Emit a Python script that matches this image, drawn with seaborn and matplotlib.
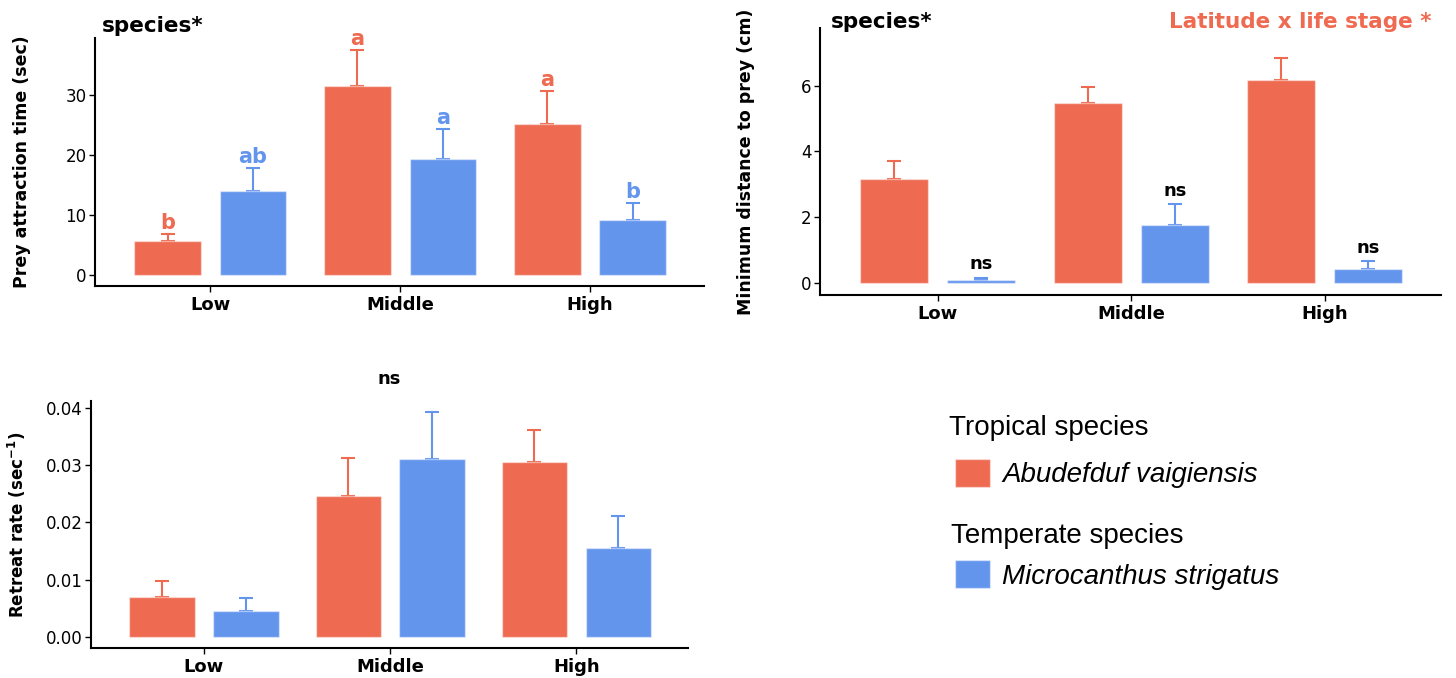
import numpy as np
import pandas as pd
import matplotlib
matplotlib.use('Agg')
import matplotlib.pyplot as plt
from matplotlib.patches import Patch
from matplotlib.ticker import FormatStrFormatter
import seaborn as sns

latitudes = ['Low', 'Middle', 'High']
species = ['Abudefduf vaigiensis', 'Microcanthus strigatus']
colors = ['#EE6A50', '#6495ED']

# prey attraction time (sec): bar means and top of the error bars
attract_trop = [5.74, 31.5, 25.3]
attract_trop_hi = [6.8, 37.6, 30.7]
attract_temp = [14.05, 19.45, 9.25]
attract_temp_hi = [17.8, 24.4, 12.0]
attract_letters_trop = ['b', 'a', 'a']
attract_letters_temp = ['ab', 'a', 'b']

# minimum distance to prey (cm)
dist_trop = [3.16, 5.47, 6.17]
dist_trop_hi = [3.72, 5.97, 6.84]
dist_temp = [0.10, 1.77, 0.44]
dist_temp_hi = [0.17, 2.41, 0.68]
dist_letters_trop = ['', '', '']
dist_letters_temp = ['ns', 'ns', 'ns']

# retreat rate (1/sec)
retreat_trop = [0.00695, 0.0246, 0.0305]
retreat_trop_hi = [0.0098, 0.0313, 0.0361]
retreat_temp = [0.0045, 0.0310, 0.01555]
retreat_temp_hi = [0.0068, 0.0393, 0.0212]

sns.set_style('ticks')
plt.rcParams['font.family'] = ['DejaVu Sans']
plt.rcParams['text.color'] = 'black'
plt.rcParams['axes.labelcolor'] = 'black'
plt.rcParams['xtick.color'] = 'black'
plt.rcParams['ytick.color'] = 'black'


def make_df(trop, temp):
    return pd.DataFrame({
        'latitude': latitudes * 2,
        'species': [species[0]] * 3 + [species[1]] * 3,
        'value': trop + temp,
    })


def draw_panel(ax, trop, trop_hi, temp, temp_hi, ylim, yticks, ylabel,
               letters=None, letter_colors=None, letter_size=15, letter_pad=1):
    df = make_df(trop, temp)
    sns.barplot(data=df, x='latitude', y='value', hue='species',
                order=latitudes, hue_order=species, palette=colors,
                saturation=1, errorbar=None, width=0.9, gap=0.22,
                legend=False, edgecolor=(1, 1, 1, 0.45), linewidth=1, ax=ax)
    if letters is None:
        letters = [[''] * 3, [''] * 3]
    if letter_colors is None:
        letter_colors = colors
    for cont, hi, col, labs, lcol in zip(ax.containers, [trop_hi, temp_hi],
                                         colors, letters, letter_colors):
        for bar, top, lab in zip(cont, hi, labs):
            xc = bar.get_x() + bar.get_width() / 2
            h = bar.get_height()
            # drawn under the bars so only the upper half shows
            ax.errorbar(xc, h, yerr=[[0], [top - h]], color=col, lw=1.5,
                        capsize=5, capthick=1.5, zorder=0.5)
            if lab:
                ax.annotate(lab, (xc, top), xytext=(0, letter_pad),
                            textcoords='offset points', ha='center',
                            va='bottom', color=lcol, fontsize=letter_size,
                            fontweight='bold')
    ax.set_xlim(-0.607, 2.6)
    ax.set_ylim(*ylim)
    ax.set_yticks(yticks)
    ax.set_xlabel('')
    ax.set_ylabel(ylabel, fontsize=12.5, fontweight='bold')
    ax.yaxis.set_label_coords(-0.105, 0.5)
    sns.despine(ax=ax)
    for s in ['left', 'bottom']:
        ax.spines[s].set_linewidth(1.5)
        ax.spines[s].set_color('black')
    ax.tick_params(axis='y', length=4, width=1, pad=2, labelsize=12,
                   color='black')
    ax.tick_params(axis='x', length=4, width=1, pad=3, labelsize=13,
                   color='black')
    for t in ax.get_xticklabels():
        t.set_fontweight('bold')


fig = plt.figure(figsize=(14.56, 6.78), dpi=100)
ax1 = fig.add_axes([95 / 1456, 1 - 286 / 678, 609 / 1456, 248 / 678])
ax2 = fig.add_axes([820 / 1456, 1 - 295 / 678, 621 / 1456, 267 / 678])
ax3 = fig.add_axes([91 / 1456, 1 - 648 / 678, 597 / 1456, 247 / 678])

draw_panel(ax1, attract_trop, attract_trop_hi, attract_temp, attract_temp_hi,
           (-1.84, 39.6), [0, 10, 20, 30], 'Prey attraction time (sec)',
           letters=[attract_letters_trop, attract_letters_temp])
ax1.text(0.0115, 1.024, 'species*', transform=ax1.transAxes,
         fontsize=15.5, fontweight='bold', ha='left', va='baseline')

draw_panel(ax2, dist_trop, dist_trop_hi, dist_temp, dist_temp_hi,
           (-0.36, 7.75), [0, 2, 4, 6], 'Minimum distance to prey (cm)',
           letters=[dist_letters_trop, dist_letters_temp],
           letter_colors=['black', 'black'], letter_size=13, letter_pad=3)
ax2.text(0.018, 1.0, 'species*', transform=ax2.transAxes,
         fontsize=15.5, fontweight='bold', ha='left', va='baseline')
ax2.text(0.9855, 1.0, 'Latitude x life stage *', transform=ax2.transAxes,
         fontsize=15.5, fontweight='bold', ha='right', va='baseline',
         color=colors[0])

draw_panel(ax3, retreat_trop, retreat_trop_hi, retreat_temp, retreat_temp_hi,
           (-0.00192, 0.0412), [0, 0.01, 0.02, 0.03, 0.04],
           'Retreat rate (sec$^{\\mathregular{-1}}$)')
ax3.yaxis.label.set_fontsize(12)
ax3.yaxis.set_major_formatter(FormatStrFormatter('%.2f'))
ax3.set_title('ns', fontsize=13, fontweight='bold', pad=12.5)

# legend
handles = [Patch(facecolor=c, edgecolor=(1, 1, 1, 0.45)) for c in colors]
fig.legend(handles, species, loc='upper left',
           bbox_to_anchor=(955 / 1456, 1 - 459 / 678), frameon=False,
           prop={'family': 'Liberation Sans', 'style': 'italic', 'size': 20},
           handlelength=1.25, handleheight=1.15, handletextpad=0.46,
           labelspacing=2.6, borderpad=0, borderaxespad=0)
fig.text(949 / 1456, 1 - 435 / 678, 'Tropical species', fontsize=20,
         family='Liberation Sans', ha='left', va='baseline')
fig.text(951 / 1456, 1 - 543 / 678, 'Temperate species', fontsize=20,
         family='Liberation Sans', ha='left', va='baseline')

fig.savefig('out.png', dpi=100)
